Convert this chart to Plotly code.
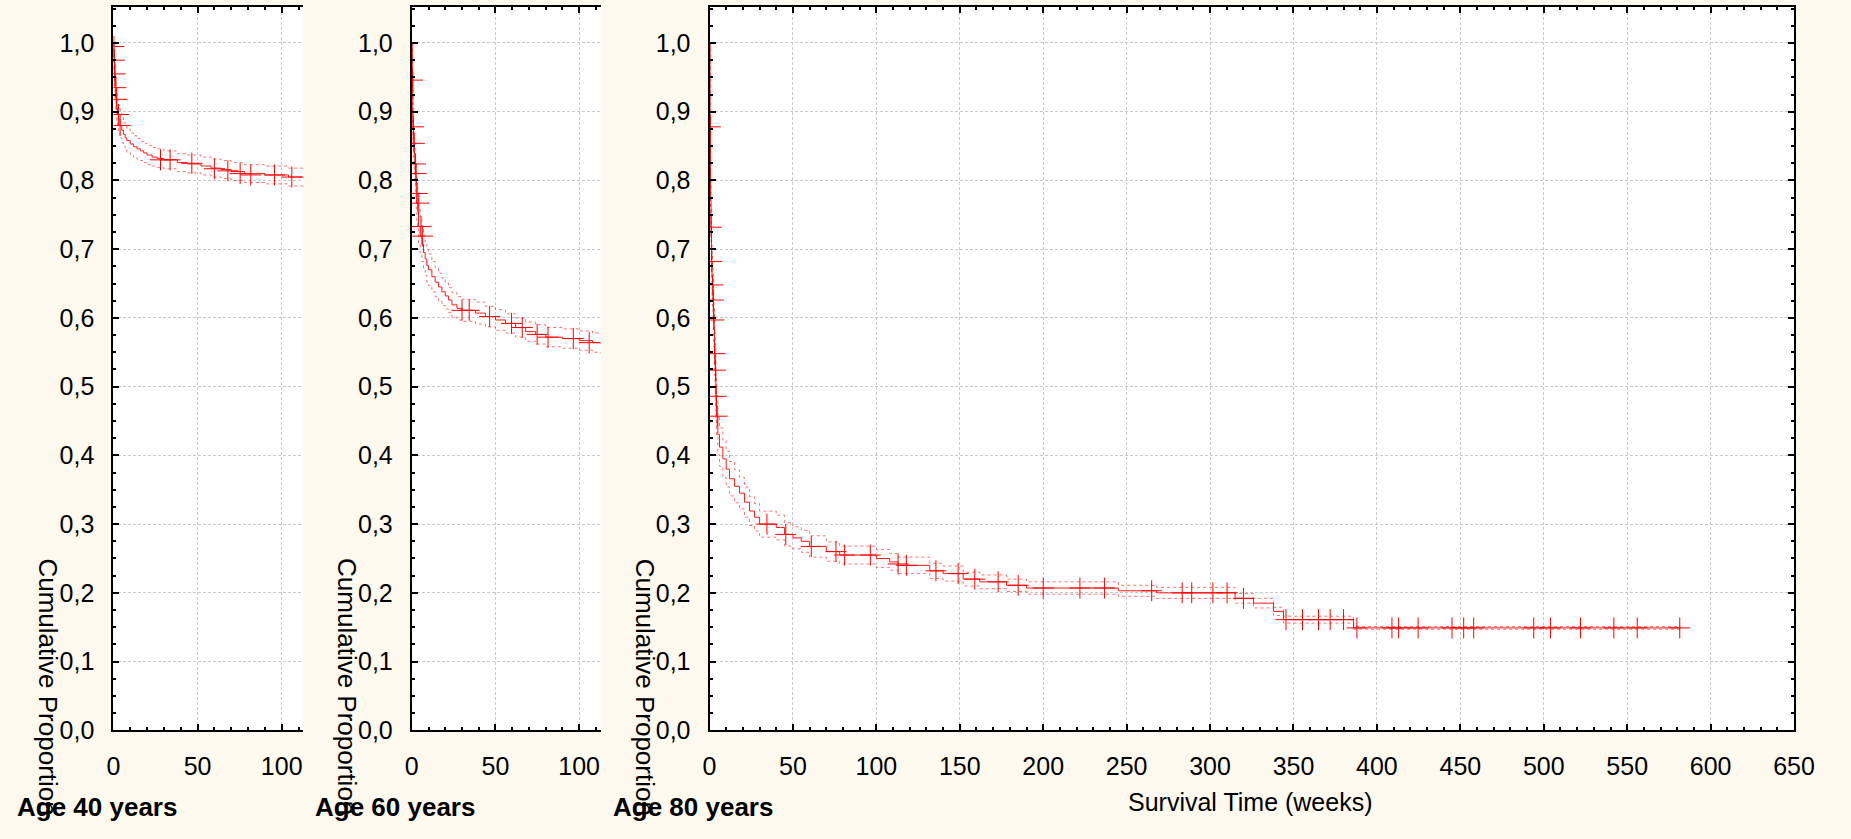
import plotly.graph_objects as go

# ---------------- data ----------------
# Age 40 years
t1 = [0, 0.3, 0.6, 1, 1.5, 2, 2.5, 3, 4, 5, 6, 7, 8, 10, 12, 14, 16, 18, 20, 23, 26, 30, 38, 44, 52, 58, 64, 70, 78, 90, 104, 113]
s1 = [1.0, 0.975, 0.955, 0.935, 0.918, 0.905, 0.896, 0.889, 0.880, 0.873, 0.867, 0.862, 0.858, 0.853, 0.849, 0.846, 0.843, 0.840, 0.837, 0.834, 0.832, 0.830, 0.826, 0.824, 0.821, 0.818, 0.816, 0.813, 0.810, 0.808, 0.805, 0.803]
lo1 = [1.0, 0.960, 0.937, 0.915, 0.898, 0.884, 0.876, 0.870, 0.862, 0.855, 0.850, 0.845, 0.841, 0.837, 0.834, 0.831, 0.829, 0.826, 0.823, 0.821, 0.819, 0.817, 0.813, 0.811, 0.808, 0.805, 0.803, 0.800, 0.797, 0.795, 0.792, 0.790]
hi1 = [1.0, 0.988, 0.972, 0.953, 0.937, 0.925, 0.916, 0.909, 0.899, 0.892, 0.885, 0.879, 0.875, 0.869, 0.865, 0.861, 0.857, 0.854, 0.851, 0.848, 0.846, 0.843, 0.839, 0.837, 0.834, 0.831, 0.829, 0.826, 0.823, 0.821, 0.818, 0.816]
cens1_t = [0.3, 0.6, 1.0, 1.5, 2.0, 3.0, 4.0, 28, 33.7, 46.6, 60, 68, 75.3, 81.6, 95.7, 106]
cens1_s = [0.995, 0.975, 0.955, 0.935, 0.918, 0.896, 0.880, 0.830, 0.830, 0.825, 0.817, 0.814, 0.810, 0.808, 0.808, 0.805]

# Age 60 years
t2 = [0, 0.3, 0.6, 0.9, 1.2, 1.5, 1.8, 2.1, 2.4, 2.7, 3, 3.5, 4, 5, 6, 7, 8, 9, 10, 12, 14, 16, 18, 20, 22, 24, 27, 30, 38, 44, 50, 56, 62, 68, 74, 80, 90, 100, 108, 113]
s2 = [1.0, 0.946, 0.878, 0.854, 0.843, 0.834, 0.824, 0.810, 0.800, 0.781, 0.767, 0.755, 0.733, 0.719, 0.707, 0.695, 0.686, 0.676, 0.670, 0.660, 0.652, 0.645, 0.638, 0.632, 0.626, 0.619, 0.614, 0.611, 0.607, 0.602, 0.597, 0.592, 0.586, 0.580, 0.576, 0.572, 0.570, 0.567, 0.564, 0.562]
lo2 = [1.0, 0.930, 0.858, 0.833, 0.821, 0.811, 0.801, 0.786, 0.776, 0.757, 0.742, 0.730, 0.708, 0.694, 0.682, 0.670, 0.662, 0.652, 0.647, 0.638, 0.631, 0.625, 0.618, 0.613, 0.608, 0.601, 0.597, 0.595, 0.591, 0.587, 0.582, 0.578, 0.572, 0.566, 0.562, 0.558, 0.556, 0.553, 0.550, 0.548]
hi2 = [1.0, 0.960, 0.897, 0.874, 0.864, 0.856, 0.846, 0.833, 0.823, 0.805, 0.791, 0.780, 0.758, 0.744, 0.732, 0.720, 0.710, 0.700, 0.693, 0.682, 0.673, 0.665, 0.658, 0.651, 0.644, 0.637, 0.631, 0.627, 0.623, 0.617, 0.612, 0.606, 0.600, 0.594, 0.590, 0.586, 0.584, 0.581, 0.578, 0.576]
cens2_t = [0.5, 1.0, 1.5, 2.2, 2.6, 3.2, 4.2, 5.5, 6.5, 30, 34.3, 46.5, 59.6, 66, 74.9, 81.4, 96.5, 106]
cens2_s = [0.946, 0.878, 0.854, 0.824, 0.810, 0.781, 0.767, 0.733, 0.719, 0.611, 0.611, 0.602, 0.592, 0.586, 0.576, 0.572, 0.570, 0.564]

# Age 80 years
t3 = [0, 0.3, 0.6, 0.9, 1.2, 1.5, 1.8, 2.1, 2.4, 2.7, 3.0, 3.4, 3.8, 4.2, 5, 6, 8, 10, 12, 15, 18, 21, 24, 27, 30, 40, 45, 50, 55, 60, 70, 78, 100, 108, 113, 132, 140, 152, 162, 178, 190, 245, 268, 315, 326, 338, 344, 386, 582]
s3 = [1.0, 0.878, 0.7725, 0.732, 0.682, 0.661, 0.648, 0.626, 0.597, 0.583, 0.548, 0.524, 0.486, 0.457, 0.430, 0.412, 0.395, 0.380, 0.366, 0.355, 0.345, 0.332, 0.319, 0.310, 0.300, 0.295, 0.285, 0.280, 0.275, 0.2675, 0.260, 0.255, 0.250, 0.245, 0.240, 0.232, 0.228, 0.220, 0.216, 0.211, 0.207, 0.203, 0.200, 0.192, 0.185, 0.173, 0.161, 0.149, 0.149]
lo3 = [1.0, 0.855, 0.745, 0.703, 0.652, 0.630, 0.617, 0.594, 0.565, 0.551, 0.516, 0.492, 0.455, 0.427, 0.401, 0.384, 0.368, 0.354, 0.341, 0.331, 0.322, 0.310, 0.298, 0.290, 0.281, 0.277, 0.268, 0.264, 0.259, 0.252, 0.246, 0.242, 0.237, 0.233, 0.228, 0.221, 0.217, 0.210, 0.206, 0.202, 0.198, 0.195, 0.192, 0.185, 0.178, 0.167, 0.156, 0.147, 0.147]
hi3 = [1.0, 0.900, 0.799, 0.760, 0.711, 0.691, 0.678, 0.657, 0.628, 0.614, 0.580, 0.556, 0.517, 0.487, 0.459, 0.440, 0.422, 0.406, 0.391, 0.379, 0.368, 0.354, 0.340, 0.330, 0.319, 0.313, 0.302, 0.296, 0.291, 0.283, 0.274, 0.268, 0.263, 0.257, 0.252, 0.243, 0.239, 0.230, 0.226, 0.220, 0.216, 0.211, 0.208, 0.199, 0.192, 0.179, 0.166, 0.151, 0.151]
cens3_t = [0.5, 1.0, 1.4, 2.0, 2.3, 2.6, 3.2, 3.6, 4.0, 4.6, 34.4, 45.7, 61, 75.8, 81, 96.4, 113, 118, 135.7, 149,
           159, 173, 185, 200, 222, 236.7, 265, 283.3, 289, 301.7, 310.2, 320, 345.5, 355.4, 365, 372, 380, 388, 409, 413,
           424.7, 445, 452, 458, 494, 504, 522, 542, 556, 581.5]
cens3_s = [0.878, 0.732, 0.682, 0.648, 0.626, 0.597, 0.548, 0.524, 0.486, 0.457, 0.300, 0.285, 0.2675, 0.260, 0.255, 0.255, 0.242, 0.240, 0.232, 0.228,
           0.220, 0.216, 0.211, 0.207, 0.207, 0.207, 0.203, 0.200, 0.200, 0.200, 0.200, 0.192, 0.161, 0.161, 0.161, 0.161, 0.161, 0.149, 0.149, 0.149,
           0.149, 0.149, 0.149, 0.149, 0.149, 0.149, 0.149, 0.149, 0.149, 0.149]

panel_titles = ["Age 40 years", "Age 60 years", "Age 80 years"]
y_label = "Cumulative Proportion"
x_label = "Survival Time (weeks)"
y_tick_vals = [0.0, 0.1, 0.2, 0.3, 0.4, 0.5, 0.6, 0.7, 0.8, 0.9, 1.0]
y_tick_text = ["0,0", "0,1", "0,2", "0,3", "0,4", "0,5", "0,6", "0,7", "0,8", "0,9", "1,0"]
x_tick_vals_short = [0, 50, 100]
x_tick_vals_long = [0, 50, 100, 150, 200, 250, 300, 350, 400, 450, 500, 550, 600, 650]

# ---------------- figure ----------------
W, H = 1851, 839
CREAM = "#FEF9EE"
RED = "#FF0000"
FONT = "Arial, Liberation Sans, sans-serif"


def px_x(p):
    return p / W


def px_y(p):
    return 1 - p / H


fig = go.Figure()

panels = [
    (t1, s1, lo1, hi1, cens1_t, cens1_s),
    (t2, s2, lo2, hi2, cens2_t, cens2_s),
    (t3, s3, lo3, hi3, cens3_t, cens3_s),
]
for i, (t, s, lo, hi, ct, cs) in enumerate(panels):
    xa = "x" if i == 0 else f"x{i+1}"
    ya = "y" if i == 0 else f"y{i+1}"
    for band in (lo, hi):
        fig.add_trace(go.Scatter(x=t, y=band, mode="lines", line=dict(color=RED, width=1, dash="dot", shape="hv"),
                                 opacity=0.55, xaxis=xa, yaxis=ya, showlegend=False, hoverinfo="skip"))
    fig.add_trace(go.Scatter(x=t, y=s, mode="lines", line=dict(color=RED, width=1, shape="hv"),
                             opacity=0.9, xaxis=xa, yaxis=ya, showlegend=False))
    fig.add_trace(go.Scatter(x=ct, y=cs, mode="markers",
                             marker=dict(symbol="cross-thin", size=15, line=dict(color=RED, width=1)),
                             xaxis=xa, yaxis=ya, showlegend=False, cliponaxis=True))

y_bottom, y_top = 742.7, 7.3
y_range = [0, 1.0521]
ydom = [px_y(y_bottom), px_y(y_top)]

common_axis = dict(showline=True, linecolor="black", linewidth=2, ticks="inside", ticklen=6, tickwidth=2,
                   tickcolor="black", showgrid=True, gridcolor="#C8C8C8", gridwidth=1, griddash="3px,2px",
                   zeroline=False, tickfont=dict(family=FONT, size=25, color="black"))

xdoms = [[108, 301], [411, 602.7], [713.3, 1814.5]]
xranges = [[0, 112.9], [0, 112.8], [0, 650]]
xticks = [x_tick_vals_short, x_tick_vals_short, x_tick_vals_long]

layout = dict(width=W, height=H, margin=dict(l=0, r=0, t=0, b=0), paper_bgcolor=CREAM, plot_bgcolor="white",
              showlegend=False)
for i in range(3):
    xk = "xaxis" if i == 0 else f"xaxis{i+1}"
    yk = "yaxis" if i == 0 else f"yaxis{i+1}"
    ya = "y" if i == 0 else f"y{i+1}"
    xa = "x" if i == 0 else f"x{i+1}"
    layout[xk] = dict(common_axis, domain=[px_x(xdoms[i][0]), px_x(xdoms[i][1])], range=xranges[i], anchor=ya,
                      tickmode="array", tickvals=xticks[i], ticktext=[str(v) for v in xticks[i]],
                      mirror="ticks", ticklabelstandoff=13,
                      minor=dict(ticks="inside", ticklen=3, tickwidth=1.5, tickcolor="black", dtick=10, tick0=0,
                                 showgrid=False))
    layout[yk] = dict(common_axis, domain=ydom, range=y_range, anchor=xa,
                      tickmode="array", tickvals=y_tick_vals, ticktext=y_tick_text,
                      mirror=("ticks" if i == 2 else False), ticklabelstandoff=12,
                      minor=dict(ticks="inside", ticklen=3, tickwidth=1.5, tickcolor="black", dtick=0.025, tick0=0,
                                 showgrid=False))

fig.update_layout(**layout)

# rotated y labels (drawn first), then panel titles
ylabel_x = [42, 345, 648]
for xc in ylabel_x:
    fig.add_annotation(x=px_x(xc), y=px_y(698.5), xref="paper", yref="paper", text=y_label, textangle=90,
                       showarrow=False, xanchor="center", yanchor="middle",
                       font=dict(family=FONT, size=26, color="black"))
title_x = [8, 311, 613]
for xl, txt in zip(title_x, panel_titles):
    fig.add_annotation(x=px_x(xl), y=px_y(821), xref="paper", yref="paper", text=f"<b>{txt}</b>",
                       showarrow=False, xanchor="left", yanchor="middle",
                       font=dict(family=FONT, size=26, color="black"))
fig.add_annotation(x=px_x(1263), y=px_y(816), xref="paper", yref="paper", text=x_label, showarrow=False,
                   xanchor="center", yanchor="middle",
                   font=dict(family=FONT, size=25, color="black"))

fig.write_html("out.html", config={"displayModeBar": False},
               post_script="document.body.style.margin='0';document.body.style.background='" + CREAM + "';")
